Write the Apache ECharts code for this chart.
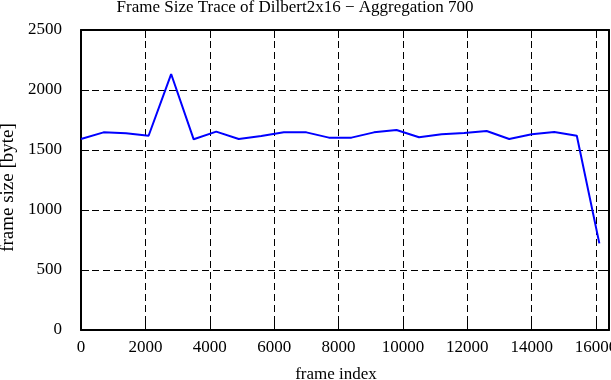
<!DOCTYPE html>
<html>
<head>
<meta charset="utf-8">
<script src="https://cdn.jsdelivr.net/npm/echarts@6/dist/echarts.min.js"></script>
<style>
html, body { margin: 0; padding: 0; background: #fff; }
#chart { width: 611px; height: 380px; }
</style>
</head>
<body>
<div id="chart"></div>
<script>
// frame index of each aggregated point (step 700)
var frameIndex = [0, 700, 1400, 2100, 2800, 3500, 4200, 4900, 5600, 6300, 7000, 7700,
    8400, 9100, 9800, 10500, 11200, 11900, 12600, 13300, 14000, 14700, 15400, 16100];
// frame size in byte
var frameSize = [1592, 1647, 1639, 1619, 2133, 1589, 1653, 1592, 1617, 1647, 1647, 1603,
    1603, 1647, 1667, 1606, 1631, 1642, 1658, 1592, 1631, 1650, 1619, 722];

var font = "'Liberation Serif', 'DejaVu Serif', serif";

var points = [];
for (var i = 0; i < frameIndex.length; i++) {
    points.push([frameIndex[i], frameSize[i]]);
}

function baseAxis(extra) {
    var a = {
        type: 'value',
        axisLine: { show: true, onZero: false, lineStyle: { color: '#000', width: 2 } },
        axisTick: { show: true, inside: true, length: 8, lineStyle: { color: '#000', width: 1 } },
        splitLine: { show: false },
        axisLabel: { show: false }
    };
    for (var k in extra) a[k] = extra[k];
    return a;
}

var chart = echarts.init(document.getElementById('chart'));
var option = {
    animation: false,
    backgroundColor: '#fff',
    title: {
        text: 'Frame Size Trace of Dilbert2x16 \u2212 Aggregation 700',
        left: 295,
        textAlign: 'center',
        top: -1,
        padding: 0,
        textStyle: { fontFamily: font, fontSize: 17, fontWeight: 'normal', color: '#000' }
    },
    grid: { left: 81, right: 2, top: 30, bottom: 50, containLabel: false, outerBoundsMode: 'none' },
    xAxis: [
        baseAxis({
            position: 'bottom', min: 0, max: 16400, interval: 2000,
            name: 'frame index', nameLocation: 'middle', nameGap: 36,
            nameTextStyle: { fontFamily: font, fontSize: 17, color: '#000', padding: [0, 18, 0, 0] },
            axisLabel: {
                show: true, margin: 9, fontFamily: font, fontSize: 17, color: '#000',
                hideOverlap: false,
                formatter: function (v) { return v % 2000 === 0 ? String(v) : ''; }
            },
            splitLine: { show: true, lineStyle: { color: '#000', width: 1, type: [7, 4] } }
        }),
        baseAxis({ position: 'top', min: 0, max: 16400, interval: 2000 })
    ],
    yAxis: [
        baseAxis({
            position: 'left', min: 0, max: 2500, interval: 500,
            name: 'frame size [byte]', nameLocation: 'middle', nameGap: 62,
            nameTextStyle: { fontFamily: font, fontSize: 19, color: '#000', padding: [0, 15, 0, 0] },
            axisLabel: {
                show: true, margin: 19, fontFamily: font, fontSize: 17, color: '#000',
                formatter: function (v) { return String(v); }
            },
            splitLine: { show: true, lineStyle: { color: '#000', width: 1, type: [7, 4] } }
        }),
        baseAxis({ position: 'right', min: 0, max: 2500, interval: 500 })
    ],
    series: [{
        type: 'line',
        data: points,
        showSymbol: false,
        symbol: 'none',
        lineStyle: { color: '#0000ff', width: 2 },
        z: 5
    }]
};
chart.setOption(option);
</script>
</body>
</html>
